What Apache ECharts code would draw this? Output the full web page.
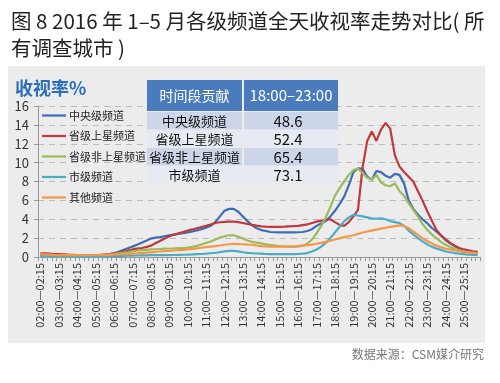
<!DOCTYPE html>
<html>
<head>
<meta charset="utf-8">
<script src="https://cdn.jsdelivr.net/npm/echarts@6/dist/echarts.min.js"></script>
<style>
html,body{margin:0;padding:0;background:#fff;}
#chart{width:500px;height:383px;}
</style>
</head>
<body>
<div id="chart"></div>
<script>
// ---- data ----
const seriesNames = ['中央级频道', '省级上星频道', '省级非上星频道', '市级频道', '其他频道'];

const central = [0.2,0.2,0.18,0.17,0.15,0.14,0.12,0.12,0.1,0.1,0.1,0.12,0.15,0.2,0.25,0.32,
  0.4,0.55,0.75,0.92,1.1,1.3,1.5,1.72,1.95,2.05,2.1,2.2,2.3,2.38,2.45,2.52,
  2.6,2.7,2.82,2.95,3.1,3.3,3.7,4.3,4.9,5.1,5.1,4.8,4.3,3.8,3.35,3.05,
  2.85,2.75,2.65,2.62,2.6,2.6,2.6,2.6,2.62,2.65,2.75,2.95,3.3,3.55,3.8,4.3,
  4.9,5.6,6.4,7.6,9.0,9.4,9.35,8.5,8.2,9.1,9.0,8.6,8.4,8.8,8.7,7.8,
  6.0,5.1,4.5,4.0,3.6,3.1,2.7,2.3,1.8,1.45,1.15,0.92,0.72,0.58,0.48,0.42];

const provSat = [0.4,0.38,0.35,0.32,0.3,0.28,0.25,0.23,0.2,0.2,0.2,0.2,0.2,0.22,0.25,0.3,
  0.35,0.45,0.55,0.68,0.8,0.88,0.95,1.05,1.2,1.45,1.7,1.95,2.2,2.35,2.5,2.65,
  2.8,2.92,3.05,3.18,3.3,3.45,3.6,3.68,3.72,3.75,3.75,3.7,3.6,3.5,3.4,3.32,
  3.25,3.22,3.2,3.2,3.2,3.22,3.25,3.28,3.3,3.38,3.45,3.6,3.75,3.85,3.95,4.0,
  3.7,3.4,3.3,3.7,4.3,5.0,9.5,12.3,13.3,12.3,13.5,14.2,13.6,10.8,9.6,9.0,
  8.5,8.0,7.0,6.0,4.9,3.9,2.9,2.3,1.9,1.5,1.2,0.95,0.8,0.7,0.6,0.55];

const provNonSat = [0.12,0.12,0.1,0.1,0.1,0.1,0.1,0.1,0.1,0.1,0.1,0.1,0.12,0.15,0.2,0.25,
  0.3,0.38,0.45,0.52,0.6,0.66,0.72,0.76,0.8,0.82,0.85,0.88,0.9,0.92,0.95,0.97,
  1.0,1.08,1.18,1.32,1.48,1.65,1.85,2.05,2.2,2.3,2.3,2.15,1.95,1.75,1.6,1.52,
  1.45,1.35,1.25,1.2,1.15,1.12,1.1,1.1,1.12,1.2,1.4,1.85,2.5,3.3,4.2,5.3,
  6.5,7.3,8.0,8.7,9.2,9.35,8.9,8.4,8.2,8.7,7.9,7.6,7.5,7.8,7.0,6.5,
  5.7,5.0,4.3,3.5,2.9,2.4,2.0,1.6,1.3,1.05,0.85,0.7,0.6,0.5,0.45,0.4];

const city = [0.12,0.1,0.1,0.08,0.08,0.06,0.06,0.05,0.05,0.05,0.05,0.05,0.05,0.06,0.07,0.08,
  0.1,0.11,0.12,0.14,0.15,0.16,0.17,0.18,0.2,0.2,0.2,0.2,0.2,0.21,0.22,0.24,
  0.25,0.27,0.3,0.32,0.35,0.4,0.45,0.52,0.6,0.65,0.65,0.6,0.5,0.43,0.4,0.37,
  0.35,0.32,0.3,0.3,0.3,0.3,0.3,0.3,0.32,0.35,0.42,0.58,0.8,1.1,1.5,2.0,
  2.6,3.2,3.8,4.2,4.45,4.4,4.3,4.2,4.1,4.05,4.1,4.0,3.8,3.7,3.6,3.3,
  2.8,2.4,2.0,1.65,1.35,1.1,0.9,0.75,0.6,0.5,0.42,0.35,0.3,0.25,0.22,0.2];

const others = [0.3,0.28,0.25,0.22,0.2,0.2,0.2,0.2,0.2,0.2,0.2,0.2,0.2,0.2,0.22,0.23,
  0.25,0.27,0.3,0.32,0.35,0.38,0.42,0.46,0.5,0.54,0.58,0.62,0.65,0.69,0.72,0.76,
  0.8,0.86,0.92,0.98,1.05,1.1,1.15,1.22,1.3,1.35,1.4,1.38,1.35,1.32,1.3,1.22,
  1.15,1.12,1.1,1.1,1.1,1.1,1.1,1.12,1.15,1.2,1.25,1.32,1.4,1.5,1.6,1.72,
  1.85,1.98,2.1,2.2,2.3,2.45,2.6,2.7,2.8,2.9,3.0,3.1,3.2,3.28,3.35,3.3,
  3.05,2.7,2.35,2.0,1.7,1.45,1.2,1.05,0.9,0.8,0.7,0.62,0.55,0.5,0.45,0.4];

const seriesColors = ['#3d6db4', '#c0393b', '#9bbb59', '#4bacc6', '#f79646'];

// table contents
const tableHeader = ['时间段贡献', '18:00–23:00'];
const tableLabels = ['中央级频道', '省级上星频道', '省级非上星频道', '市级频道'];
const tableValues = ['48.6', '52.4', '65.4', '73.1'];

// x categories: 15-minute slots from 02:00 to 26:00
function pad(n){ return (n < 10 ? '0' : '') + n; }
const categories = [];
for (let i = 0; i < 96; i++) {
  const a = 120 + i * 15, b = a + 15;
  categories.push(pad(Math.floor(a/60)) + ':' + pad(a%60) + '—' + pad(Math.floor(b/60)) + ':' + pad(b%60));
}

const titleText = '图 8 2016 年 1–5 月各级频道全天收视率走势对比( 所\n有调查城市 )';
const yTitle = '收视率%';
const sourceText = '数据来源：CSM媒介研究';

// ---- chart ----
const FONT = '"Noto Sans CJK SC", "Noto Sans", sans-serif';
const chart = echarts.init(document.getElementById('chart'), null, {renderer: 'canvas'});

const allData = [central, provSat, provNonSat, city, others];

// table graphic
const tbl = [];
const tx0 = 147, tdiv = 242, tx1 = 338, headY = 80, headH = 31, rowH = 17.5;
tbl.push({type:'rect', shape:{x:tx0, y:headY, width:tdiv - tx0, height:headH}, style:{fill:'#4a7bbd'}, z:10});
tbl.push({type:'rect', shape:{x:tdiv + 2, y:headY, width:tx1 - tdiv - 2, height:headH}, style:{fill:'#4a7bbd'}, z:10});
tbl.push({type:'text', x:(tx0 + tdiv)/2, y:headY + headH/2, style:{text:tableHeader[0], fill:'#fff', font:'14px ' + FONT, align:'center', verticalAlign:'middle'}, z:11});
tbl.push({type:'text', x:(tdiv + 2 + tx1)/2, y:headY + headH/2, style:{text:tableHeader[1], fill:'#fff', font:'15px ' + FONT, align:'center', verticalAlign:'middle'}, z:11});
tableLabels.forEach(function(lab, r){
  const y = headY + headH + 1 + r * (rowH + 0.5);
  const fill = r % 2 === 0 ? '#cdd6e8' : '#e6eaf2';
  tbl.push({type:'rect', shape:{x:tx0, y:y, width:tdiv - tx0, height:rowH}, style:{fill:fill}, z:10});
  tbl.push({type:'rect', shape:{x:tdiv + 2, y:y, width:tx1 - tdiv - 2, height:rowH}, style:{fill:fill}, z:10});
  tbl.push({type:'text', x:(tx0 + tdiv)/2, y:y + rowH/2, style:{text:lab, fill:'#111', font:'13px ' + FONT, align:'center', verticalAlign:'middle'}, z:11});
  tbl.push({type:'text', x:(tdiv + 2 + tx1)/2 - 3, y:y + rowH/2 + 1, style:{text:tableValues[r], fill:'#111', font:'15px ' + FONT, align:'center', verticalAlign:'middle'}, z:11});
});

const option = {
  backgroundColor: '#ffffff',
  animation: false,
  title: {
    text: titleText,
    left: 6, top: 3,
    textStyle: {fontSize: 20.5, fontWeight: 'normal', color: '#222', fontFamily: FONT, lineHeight: 27}
  },
  graphic: [
    {type:'rect', shape:{x:8, y:66, width:477, height:277}, style:{fill:'#ececec'}, z:-10},
    {type:'text', x:15, y:88, style:{text:yTitle, fill:'#2a6ebb', font:'bold 18px ' + FONT, verticalAlign:'middle'}, z:5},
    {type:'text', x:484, y:354, style:{text:sourceText, fill:'#777', font:'12px ' + FONT, align:'right', verticalAlign:'middle'}, z:5}
  ].concat(tbl),
  legend: {
    orient: 'vertical',
    left: 37, top: 105,
    itemWidth: 24, itemHeight: 12, itemGap: 9.5,
    icon: 'path://M0,0 L24,0 L24,2.2 L0,2.2 Z',
    textStyle: {fontSize: 11, color: '#222', fontFamily: FONT, padding: [0, 0, 0, -2]},
    data: seriesNames
  },
  grid: {left: 38, right: 20, top: 106, bottom: 126, containLabel: false},
  xAxis: {
    type: 'category',
    data: categories,
    boundaryGap: true,
    axisLine: {show: true, lineStyle: {color: '#999', width: 1}},
    axisTick: {show: true, interval: 0, length: 4, lineStyle: {color: '#999'}},
    axisLabel: {interval: 3, rotate: 90, fontSize: 11, color: '#333', fontFamily: FONT, margin: 6},
    splitLine: {show: false}
  },
  yAxis: {
    type: 'value',
    min: 0, max: 16, interval: 2,
    axisLine: {show: true, lineStyle: {color: '#999', width: 1}},
    axisTick: {show: true, length: 4, lineStyle: {color: '#999'}},
    axisLabel: {fontSize: 13, color: '#333', fontFamily: FONT, margin: 9},
    splitLine: {show: true, lineStyle: {color: '#bbb', type: [6, 5], width: 1}}
  },
  series: seriesNames.map(function(name, k){
    return {
      name: name,
      type: 'line',
      data: allData[k],
      symbol: 'none',
      smooth: false,
      lineStyle: {width: 2.2, color: seriesColors[k]},
      itemStyle: {color: seriesColors[k]},
      z: 2
    };
  })
};
chart.setOption(option);
</script>
</body>
</html>
